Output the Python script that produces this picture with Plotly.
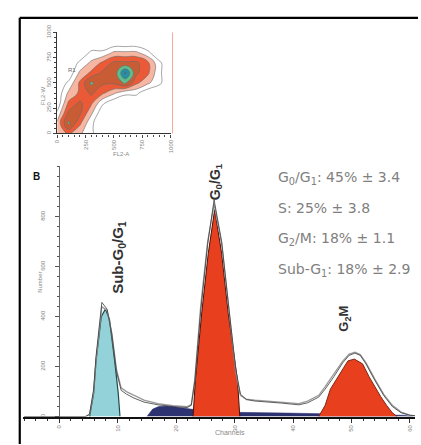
import plotly.graph_objects as go

# ---------------- data ----------------
# DNA content histogram (channels vs number of events)
outline_ch = [-6, 4.5, 5.2, 5.9, 6.3, 7.0, 7.3, 8.2, 9.0, 9.8, 10.6, 11.5, 12.8, 14.5, 16.9, 19.5,
              21.9, 22.6, 23.2, 24.2, 25.4, 26.5, 27.8, 29.0, 30.2, 31.0, 32.0, 33.5, 35.4, 38.0,
              41.0, 42.5, 44.4, 45.5, 47.0, 48.5, 49.6, 50.6, 51.5, 52.5, 54.0, 55.5, 57.0, 58.5,
              60.0, 60.9]
counts_rep1 = [0, 0, 10, 110, 240, 400, 457, 430, 330, 180, 105, 90, 74, 58, 47, 40,
               36, 45, 140, 420, 690, 867, 700, 440, 190, 90, 68, 62, 59, 54,
               47, 55, 78, 110, 160, 215, 245, 254, 245, 210, 145, 85, 40, 15,
               5, 3]
counts_rep2 = [0, 0, 8, 100, 225, 385, 440, 425, 335, 190, 115, 100, 84, 66, 52, 44,
               40, 48, 150, 440, 700, 850, 690, 430, 180, 85, 70, 66, 62, 58,
               52, 62, 85, 120, 170, 222, 250, 258, 248, 215, 150, 90, 45, 18,
               6, 3]

subg1_ch = [5.2, 5.9, 6.3, 7.2, 7.9, 8.6, 9.5, 10.1, 10.4]
subg1_counts = [0, 94, 222, 400, 430, 390, 222, 94, 0]

g0g1_ch = [22.9, 23.3, 24.4, 25.5, 26.6, 27.8, 28.9, 30.5, 30.9]
g0g1_counts = [0, 145, 418, 652, 828, 652, 418, 145, 0]

g2m_ch = [44.4, 45.5, 46.4, 47.5, 48.5, 49.4, 50.5, 51.9, 53.0, 54.0, 55.0, 56.0, 57.0, 57.8]
g2m_counts = [0, 45, 110, 150, 190, 223, 230, 211, 160, 118, 80, 45, 15, 0]

s_ch = [15.0, 16.0, 17.0, 18.5, 20.0, 21.5, 23.0, 25.0, 28.0, 31.0, 33.0, 36.0, 39.0, 42.0,
        44.0, 46.0, 50.0, 54.0, 57.0, 59.0, 60.5]
s_counts = [0, 30, 40, 42, 38, 34, 28, 22, 18, 16, 15, 15, 14, 13,
            12, 11, 10, 9, 8, 5, 0]

x_ticks = [0, 10, 20, 30, 40, 50, 60]
y_ticks = [0, 200, 400, 600, 800]

stats_lines = ["G<sub>0</sub>/G<sub>1</sub>: 45% ± 3.4",
               "S: 25% ± 3.8",
               "G<sub>2</sub>/M: 18% ± 1.1",
               "Sub-G<sub>1</sub>: 18% ± 2.9"]

# FL2-A vs FL2-W event density (inset)
fl2a_grid = [0, 100, 200, 300, 400, 500, 600, 700, 800, 900, 1000]
fl2w_grid = [0, 100, 200, 300, 400, 500, 600, 700, 800, 900, 1000]
density = [
    [2, 3, 2, 1, 0, 0, 0, 0, 0, 0, 0],
    [2, 5, 3, 1, 0, 0, 0, 0, 0, 0, 0],
    [1, 4, 4, 2, 0, 0, 0, 0, 0, 0, 0],
    [0, 3, 4, 3, 1, 0, 0, 0, 0, 0, 0],
    [0, 2, 3, 4, 3, 2, 1, 1, 0, 0, 0],
    [0, 1, 3, 5, 4, 4, 5, 3, 2, 1, 0],
    [0, 0, 2, 3, 4, 4, 7, 4, 3, 1, 0],
    [0, 0, 1, 2, 3, 4, 4, 4, 3, 1, 0],
    [0, 0, 0, 1, 1, 2, 2, 2, 1, 0, 0],
    [0, 0, 0, 0, 0, 0, 0, 0, 0, 0, 0],
    [0, 0, 0, 0, 0, 0, 0, 0, 0, 0, 0],
]
inset_ticks = [0, 250, 500, 750, 1000]

# ---------------- layout helpers ----------------
W, H = 421, 445


def px(x):
    return x / W


def py(y):
    return 1 - y / H


FONT = "Arial, Liberation Sans, sans-serif"
RED = "#e8401e"

fig = go.Figure()

# S-phase (dark blue) under the histogram
fig.add_trace(go.Scatter(x=s_ch, y=s_counts, mode="lines", fill="tozeroy",
                         fillcolor="#2d3270", line=dict(color="#2d3270", width=0.5),
                         xaxis="x", yaxis="y", hoverinfo="skip"))
# Sub-G1 population
fig.add_trace(go.Scatter(x=subg1_ch, y=subg1_counts, mode="lines", fill="tozeroy",
                         fillcolor="#93d2d8", line=dict(color="#1d4a4c", width=1.2),
                         xaxis="x", yaxis="y", hoverinfo="skip"))
# G0/G1 and G2/M populations
fig.add_trace(go.Scatter(x=g0g1_ch, y=g0g1_counts, mode="lines", fill="tozeroy",
                         fillcolor=RED, line=dict(color="#4a1008", width=1),
                         xaxis="x", yaxis="y", hoverinfo="skip"))
fig.add_trace(go.Scatter(x=g2m_ch, y=g2m_counts, mode="lines", fill="tozeroy",
                         fillcolor=RED, line=dict(color="#7a2a18", width=1),
                         xaxis="x", yaxis="y", hoverinfo="skip"))
# measured histogram outlines
fig.add_trace(go.Scatter(x=outline_ch, y=counts_rep2, mode="lines",
                         line=dict(color="#9a9a9a", width=1.3),
                         xaxis="x", yaxis="y", hoverinfo="skip"))
fig.add_trace(go.Scatter(x=outline_ch, y=counts_rep1, mode="lines",
                         line=dict(color="#3a3a3a", width=0.8),
                         xaxis="x", yaxis="y", hoverinfo="skip"))

# inset density plot
fig.add_trace(go.Contour(
    x=fl2a_grid, y=fl2w_grid, z=density, xaxis="x2", yaxis="y2",
    zmin=0, zmax=7, showscale=False, hoverinfo="skip",
    contours=dict(start=0.8, end=7, size=1, coloring="fill"),
    line=dict(color="#6a6a6a", width=0.6, smoothing=1.3),
    colorscale=[[0, "#ffffff"], [0.1, "#ffffff"], [0.2, "#fbe2d8"],
                [0.33, "#ef7048"], [0.55, "#e2391b"], [0.68, "#7cc47f"],
                [0.85, "#2fb3a0"], [1, "#1f5fa8"]],
))

grey_tick = dict(family=FONT, size=6, color="#808080")

fig.update_layout(
    width=W, height=H,
    margin=dict(l=0, r=0, t=0, b=0),
    paper_bgcolor="white", plot_bgcolor="white",
    showlegend=False,
    font=dict(family=FONT),
    xaxis=dict(domain=[px(20), px(418)], range=[(20 - 57) / 5.93, (418 - 57) / 5.93],
               anchor="y", tickvals=x_ticks, ticktext=[str(v) for v in x_ticks],
               ticks="outside", ticklen=4, tickcolor="#333", tickwidth=1,
               minor=dict(dtick=2, ticks="outside", ticklen=2, tickcolor="#333"),
               showline=True, linecolor="#111", linewidth=2.2,
               showgrid=False, zeroline=False, tickfont=grey_tick, tickangle=-90),
    yaxis=dict(domain=[py(417), py(161)], range=[0, 1004],
               anchor="free", position=px(57),
               tickvals=y_ticks, ticktext=[str(v) for v in y_ticks],
               ticks="outside", ticklen=4, tickcolor="#555", tickwidth=1,
               minor=dict(dtick=40, ticks="outside", ticklen=2, tickcolor="#555"),
               showline=True, linecolor="#666", linewidth=1,
               showgrid=False, zeroline=False, tickfont=grey_tick, tickangle=-90,
               ticklabelstandoff=8),
    xaxis2=dict(domain=[px(55), px(170)], range=[0, 1000], anchor="y2",
                tickvals=inset_ticks, ticks="outside", ticklen=3, tickcolor="#444",
                minor=dict(dtick=50, ticks="outside", ticklen=2, tickcolor="#444"),
                showline=True, linecolor="#333", linewidth=1.2,
                showgrid=False, zeroline=False,
                tickfont=dict(family=FONT, size=6, color="#888"), tickangle=-90),
    yaxis2=dict(domain=[py(128), py(25)], range=[0, 1000], anchor="x2",
                tickvals=inset_ticks, ticks="outside", ticklen=3, tickcolor="#444",
                minor=dict(dtick=50, ticks="outside", ticklen=2, tickcolor="#444"),
                showline=True, linecolor="#333", linewidth=1.2,
                showgrid=False, zeroline=False,
                tickfont=dict(family=FONT, size=6, color="#888"), tickangle=-90),
)

# panel frame (left and top edges)
fig.add_shape(type="line", xref="paper", yref="paper", x0=px(17), x1=px(17), y0=0, y1=py(10),
              line=dict(color="#000", width=2.2))
fig.add_shape(type="line", xref="paper", yref="paper", x0=px(17), x1=1, y0=py(10), y1=py(10),
              line=dict(color="#000", width=2.2))
# faint right edge of the inset
fig.add_shape(type="line", xref="paper", yref="paper", x0=px(172), x1=px(172),
              y0=py(128), y1=py(25), line=dict(color="#f2a898", width=1))

ann = []
# panel letter
ann.append(dict(x=px(28), y=py(172), text="<b>B</b>", showarrow=False,
                font=dict(size=10, color="#111")))
# axis titles
ann.append(dict(x=px(33), y=py(280), text="Number", showarrow=False, textangle=-90,
                font=dict(size=6, color="#888")))
ann.append(dict(x=px(230), y=py(439), text="Channels", showarrow=False,
                font=dict(size=7, color="#888")))
ann.append(dict(x=px(36), y=py(78), text="FL2-W", showarrow=False, textangle=-90,
                font=dict(size=6, color="#888")))
ann.append(dict(x=px(110), y=py(144), text="FL2-A", showarrow=False,
                font=dict(size=6, color="#888")))
ann.append(dict(x=px(64), y=py(58), text="R1", showarrow=False,
                font=dict(size=6, color="#666")))
# population labels
ann.append(dict(x=px(106), y=py(254), text="<b>Sub-G<sub>0</sub>/G<sub>1</sub></b>",
                showarrow=False, textangle=-90, font=dict(size=15, color="#333")))
ann.append(dict(x=px(216), y=py(177), text="<b>G<sub>0</sub>/G<sub>1</sub></b>",
                showarrow=False, textangle=-90, font=dict(size=14, color="#333")))
ann.append(dict(x=px(357), y=py(332), text="<b>G<sub>2</sub>M</b>", showarrow=False,
                textangle=-90, font=dict(size=13, color="#333")))
# cell-cycle statistics
for line, yy in zip(stats_lines, [173, 204, 236, 267]):
    ann.append(dict(x=px(277), y=py(yy), text=line, showarrow=False, xanchor="left",
                    font=dict(family="DejaVu Sans", size=14, color="#808080")))

fig.update_layout(annotations=[dict(xref="paper", yref="paper", **a) for a in ann])

fig.write_html("out.html")
